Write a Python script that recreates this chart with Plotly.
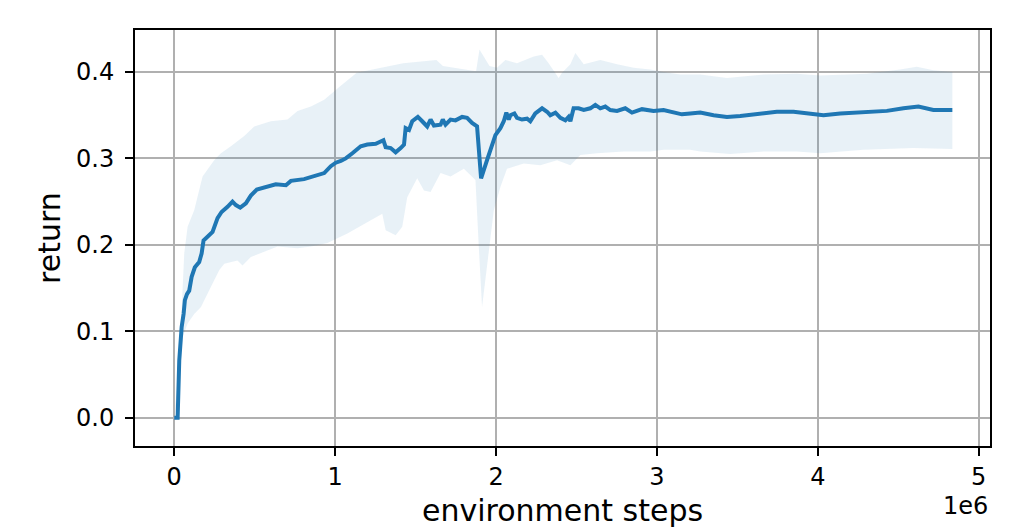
import plotly.graph_objects as go

# mean return curve (x in millions of environment steps)
mean_x = [0.0, 0.021, 0.031, 0.046, 0.058, 0.066, 0.079, 0.093, 0.108, 0.128, 0.155, 0.17, 0.182,
          0.207, 0.238, 0.269, 0.294, 0.331, 0.362, 0.383, 0.41, 0.445, 0.476, 0.513, 0.569,
          0.631, 0.694, 0.725, 0.807, 0.89, 0.932, 0.973, 1.004, 1.035, 1.066, 1.107, 1.159,
          1.2, 1.252, 1.3, 1.314, 1.345, 1.376, 1.407, 1.428, 1.438, 1.459, 1.479, 1.514,
          1.541, 1.572, 1.593, 1.614, 1.655, 1.669, 1.686, 1.717, 1.748, 1.789, 1.82, 1.851,
          1.882, 1.907, 1.944, 1.975, 1.996, 2.027, 2.048, 2.064, 2.079, 2.089, 2.114, 2.13,
          2.161, 2.193, 2.213, 2.244, 2.286, 2.317, 2.337, 2.369, 2.4, 2.431, 2.451, 2.462,
          2.482, 2.513, 2.545, 2.586, 2.617, 2.648, 2.679, 2.71, 2.752, 2.803, 2.845, 2.907,
          2.979, 3.041, 3.124, 3.155, 3.207, 3.269, 3.352, 3.435, 3.518, 3.621, 3.745, 3.849,
          3.932, 4.035, 4.139, 4.284, 4.429, 4.532, 4.625, 4.718, 4.836]
mean_y = [0.0, 0.0, 0.066, 0.105, 0.12, 0.136, 0.143, 0.147, 0.163, 0.174, 0.18, 0.19, 0.205,
          0.209, 0.215, 0.231, 0.238, 0.244, 0.25, 0.246, 0.243, 0.248, 0.257, 0.264, 0.267,
          0.270, 0.269, 0.274, 0.276, 0.280, 0.283, 0.291, 0.295, 0.297, 0.300, 0.306, 0.314,
          0.316, 0.317, 0.321, 0.313, 0.312, 0.307, 0.312, 0.316, 0.335, 0.333, 0.343, 0.348,
          0.343, 0.337, 0.345, 0.338, 0.339, 0.345, 0.339, 0.345, 0.344, 0.348, 0.347, 0.341,
          0.337, 0.277, 0.298, 0.317, 0.327, 0.335, 0.343, 0.353, 0.345, 0.350, 0.352, 0.347,
          0.345, 0.346, 0.343, 0.352, 0.358, 0.354, 0.350, 0.353, 0.347, 0.344, 0.348, 0.343,
          0.358, 0.358, 0.356, 0.358, 0.362, 0.358, 0.360, 0.356, 0.355, 0.358, 0.353, 0.357,
          0.355, 0.356, 0.353, 0.351, 0.352, 0.353, 0.350, 0.348, 0.349, 0.351, 0.354, 0.354,
          0.352, 0.350, 0.352, 0.354, 0.355, 0.358, 0.360, 0.356, 0.356]

# upper / lower edge of the shaded band
upper_x = [0.0, 0.02, 0.041, 0.062, 0.083, 0.124, 0.176, 0.248, 0.29, 0.352, 0.435, 0.497,
           0.6, 0.704, 0.766, 0.849, 0.932, 0.994, 1.035, 1.134, 1.299, 1.423, 1.629, 1.67,
           1.876, 1.897, 1.959, 2.006, 2.058, 2.13, 2.234, 2.286, 2.327, 2.389, 2.41, 2.462,
           2.493, 2.545, 2.648, 2.752, 2.855, 2.959, 3.041, 3.145, 3.269, 3.435, 3.663, 3.87,
           4.014, 4.304, 4.511, 4.615, 4.718, 4.836]
upper_y = [0.0, 0.04, 0.105, 0.19, 0.221, 0.240, 0.279, 0.298, 0.306, 0.314, 0.326, 0.337,
           0.343, 0.345, 0.355, 0.360, 0.368, 0.378, 0.384, 0.399, 0.405, 0.410, 0.414, 0.407,
           0.401, 0.426, 0.407, 0.405, 0.414, 0.410, 0.418, 0.420, 0.410, 0.393, 0.399, 0.409,
           0.422, 0.409, 0.414, 0.409, 0.405, 0.403, 0.400, 0.397, 0.397, 0.393, 0.397, 0.398,
           0.396, 0.398, 0.403, 0.406, 0.402, 0.400]
lower_x = [0.0, 0.03, 0.052, 0.083, 0.124, 0.166, 0.207, 0.248, 0.28, 0.311, 0.393, 0.424,
           0.476, 0.559, 0.642, 0.766, 0.849, 0.952, 1.076, 1.18, 1.293, 1.314, 1.376, 1.417,
           1.448, 1.51, 1.552, 1.593, 1.655, 1.717, 1.8, 1.872, 1.893, 1.913, 1.944, 1.986,
           2.027, 2.068, 2.172, 2.275, 2.379, 2.462, 2.524, 2.627, 2.793, 2.959, 3.041, 3.207,
           3.269, 3.455, 3.663, 3.87, 4.014, 4.284, 4.594, 4.836]
lower_y = [0.0, 0.04, 0.093, 0.109, 0.12, 0.128, 0.143, 0.159, 0.171, 0.178, 0.182, 0.176,
           0.186, 0.192, 0.198, 0.196, 0.198, 0.202, 0.213, 0.224, 0.236, 0.217, 0.211, 0.221,
           0.255, 0.277, 0.263, 0.261, 0.283, 0.279, 0.288, 0.275, 0.197, 0.128, 0.174, 0.240,
           0.267, 0.288, 0.294, 0.292, 0.298, 0.292, 0.304, 0.306, 0.308, 0.308, 0.310, 0.310,
           0.308, 0.305, 0.308, 0.308, 0.306, 0.310, 0.312, 0.311]

x_ticks = [0, 1, 2, 3, 4, 5]
y_ticks = [0.0, 0.1, 0.2, 0.3, 0.4]

fig = go.Figure()

# shaded band
fig.add_trace(go.Scatter(
    x=upper_x + lower_x[::-1],
    y=upper_y + lower_y[::-1],
    fill='toself', fillcolor='rgba(31,119,180,0.1)',
    line=dict(width=0), mode='lines', hoverinfo='skip', showlegend=False))

# mean line
fig.add_trace(go.Scatter(x=mean_x, y=mean_y, mode='lines',
                         line=dict(color='#1f77b4', width=4), showlegend=False))

axis_style = dict(showline=True, mirror=True, linecolor='black', linewidth=1.9,
                  ticks='outside', ticklen=8, tickwidth=1.9, tickcolor='black',
                  showgrid=True, gridcolor='#b0b0b0', gridwidth=1.9, zeroline=False,
                  automargin=False,
                  tickfont=dict(family='DejaVu Sans', size=24, color='black'))

fig.update_xaxes(range=[-0.244, 5.07], tickvals=x_ticks, ticktext=[str(t) for t in x_ticks],
                 title=dict(text='environment steps', font=dict(family='DejaVu Sans', size=30, color='black'),
                            standoff=10),
                 **axis_style)
fig.update_yaxes(range=[-0.0328, 0.4486], tickvals=y_ticks, ticktext=['%.1f' % t for t in y_ticks],
                 ticklabelstandoff=6,
                 title=dict(text='return', font=dict(family='DejaVu Sans', size=30, color='black'),
                            standoff=7),
                 **axis_style)

fig.add_annotation(text='1e6', xref='paper', yref='paper', x=1, y=0, xanchor='right',
                   yanchor='top', yshift=-44, showarrow=False,
                   font=dict(family='DejaVu Sans', size=24, color='black'))

# page body adds an 8px margin, so the figure is drawn 8px smaller
fig.update_layout(width=1002, height=522, plot_bgcolor='white', paper_bgcolor='white',
                  margin=dict(l=127, r=20, t=22, b=84))

fig.write_html("out.html")
